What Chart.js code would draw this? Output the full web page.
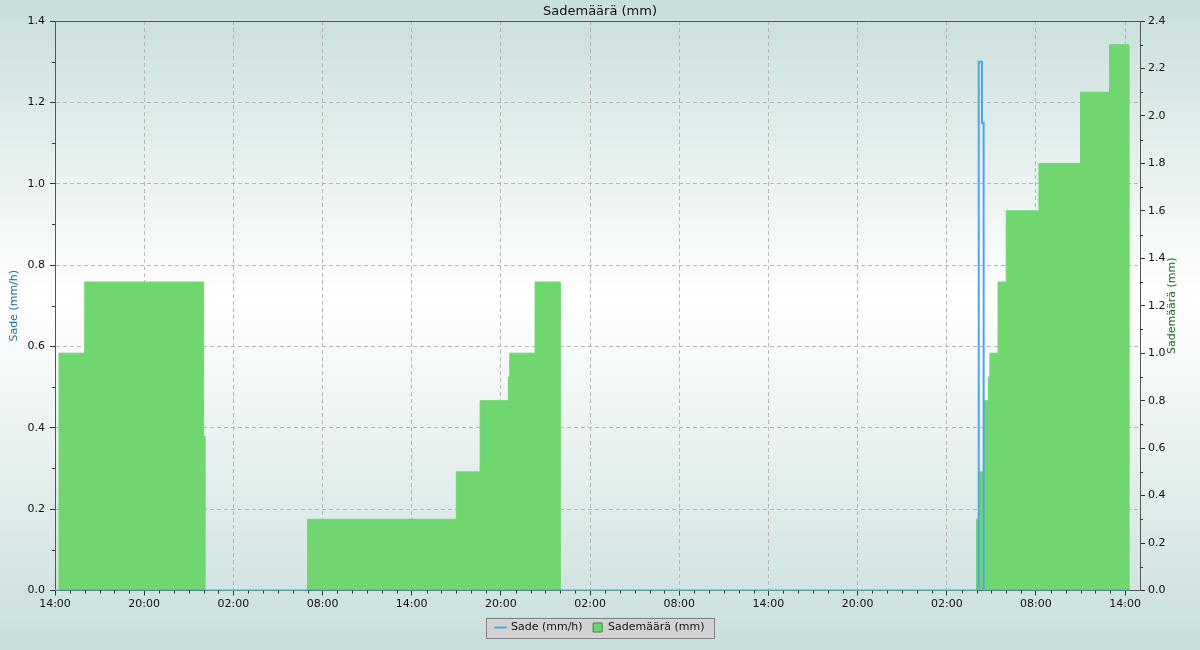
<!DOCTYPE html>
<html>
<head>
<meta charset="utf-8">
<script src="https://cdn.jsdelivr.net/npm/chart.js@4.4.1/dist/chart.umd.min.js"></script>
<style>
  html, body { margin: 0; padding: 0; }
  #wrap { width: 1200px; height: 650px; }
</style>
</head>
<body>
<div id="wrap"><canvas id="rainChart"></canvas></div>
<script>
// aika tunteina klo 14:00 alkaen
const rateTimes = [0, 62.15, 62.37, 62.48, 72.27]
const rateValues = [0, 1.3, 1.15, 0, 0]

const sumTimes = [0, 0.27, 2.0, 10.0, 10.1, 17.0, 27.0, 28.6, 30.5, 30.6, 32.3, 34.0,
  62.0, 62.2, 62.5, 62.8, 62.9, 63.45, 64.0, 66.2, 69.0, 70.95, 72.27]
const sumValues = [0, 1.0, 1.3, 0.65, 0, 0.3, 0.5, 0.8, 0.9, 1.0, 1.3, 0,
  0.3, 0.5, 0.8, 0.9, 1.0, 1.3, 1.6, 1.8, 2.1, 2.3, 0]

const xTickLabels = ['14:00', '20:00', '02:00', '08:00', '14:00', '20:00', '02:00',
  '08:00', '14:00', '20:00', '02:00', '08:00', '14:00']

const blue = 'rgb(78,168,222)'
const green = 'rgb(112,214,112)'

const toPoints = (xs, ys) => xs.map((x, i) => ({ x: x, y: ys[i] }))

const pageBg = {
  id: 'pageBg',
  beforeDraw(chart) {
    const { ctx, width, height } = chart
    const g = ctx.createLinearGradient(0, 0, 0, height)
    g.addColorStop(0, 'rgb(200,222,220)')
    g.addColorStop(0.46, 'rgb(255,255,255)')
    g.addColorStop(1, 'rgb(200,222,220)')
    ctx.save()
    ctx.fillStyle = g
    ctx.fillRect(0, 0, width, height)
    // legendin laatikko
    const boxes = chart.legend.legendHitBoxes
    if (boxes && boxes.length) {
      const first = boxes[0], last = boxes[boxes.length - 1]
      const l = first.left - 9, r = last.left + last.width + 10
      const cy = first.top + first.height / 2
      ctx.fillStyle = 'rgb(210,210,210)'
      ctx.fillRect(l, cy - 10, r - l, 20)
      ctx.strokeStyle = 'rgb(130,130,130)'
      ctx.lineWidth = 1
      ctx.strokeRect(Math.round(l) + 0.5, Math.round(cy - 10) + 0.5, Math.round(r - l), 20)
    }
    ctx.restore()
  }
}

const minorTicks = {
  id: 'minorTicks',
  afterDraw(chart) {
    const { ctx, chartArea } = chart
    const x = chart.scales.x, y = chart.scales.y, y1 = chart.scales.y1
    ctx.save()
    ctx.strokeStyle = '#333'
    ctx.lineWidth = 1
    ctx.beginPath()
    for (let h = 1; h < x.max; h++) {
      if (h % 6 === 0) continue
      const px = Math.round(x.getPixelForValue(h)) + 0.5
      ctx.moveTo(px, chartArea.bottom)
      ctx.lineTo(px, chartArea.bottom + 3)
    }
    for (let v = 0.1; v < 1.4; v += 0.2) {
      const py = Math.round(y.getPixelForValue(v)) + 0.5
      ctx.moveTo(chartArea.left - 3, py)
      ctx.lineTo(chartArea.left, py)
    }
    for (let v = 0.1; v < 2.4; v += 0.2) {
      const py = Math.round(y1.getPixelForValue(v)) + 0.5
      ctx.moveTo(chartArea.right, py)
      ctx.lineTo(chartArea.right + 3, py)
    }
    ctx.stroke()
    // yläreuna
    ctx.strokeStyle = '#555'
    ctx.beginPath()
    ctx.moveTo(chartArea.left, Math.floor(chartArea.top) + 0.5)
    ctx.lineTo(chartArea.right, Math.floor(chartArea.top) + 0.5)
    ctx.stroke()
    // oikean akselin otsikko, luetaan alhaalta ylös
    ctx.fillStyle = 'rgb(30,100,30)'
    ctx.font = "11px 'DejaVu Sans', sans-serif"
    ctx.textAlign = 'center'
    ctx.textBaseline = 'middle'
    ctx.translate(1172, (chartArea.top + chartArea.bottom) / 2)
    ctx.rotate(-Math.PI / 2)
    ctx.fillText('Sademäärä (mm)', 0, 0)
    ctx.restore()
  }
}

Chart.defaults.font.family = "'DejaVu Sans', sans-serif"
Chart.defaults.font.size = 11
Chart.defaults.color = '#111'

const ctx = document.getElementById('rainChart')
const rainChart = new Chart(ctx, {
  type: 'line',
  data: {
    datasets: [{
      label: 'Sade (mm/h)',
      data: toPoints(rateTimes, rateValues),
      borderColor: blue,
      backgroundColor: blue,
      borderWidth: 2,
      pointRadius: 0,
      stepped: true,
      fill: false,
      yAxisID: 'y'
    }, {
      label: 'Sademäärä (mm)',
      data: toPoints(sumTimes, sumValues),
      borderColor: green,
      backgroundColor: green,
      borderWidth: 1,
      pointRadius: 0,
      stepped: true,
      fill: 'origin',
      yAxisID: 'y1'
    }]
  },
  options: {
    responsive: true,
    maintainAspectRatio: false,
    animation: false,
    layout: { padding: { top: 0, bottom: 7, left: 0, right: 0 } },
    plugins: {
      title: {
        display: true,
        text: 'Sademäärä (mm)',
        color: '#111',
        font: { size: 13, weight: 'normal' },
        padding: { top: 3.5, bottom: 1.9 }
      },
      legend: {
        position: 'bottom',
        labels: {
          usePointStyle: true,
          boxWidth: 10,
          boxHeight: 9,
          padding: 10,
          generateLabels: () => [
            { text: 'Sade (mm/h)', pointStyle: 'line', strokeStyle: blue, fillStyle: blue,
              lineWidth: 2, hidden: false, datasetIndex: 0, fontColor: '#111' },
            { text: 'Sademäärä (mm)', pointStyle: 'rect', strokeStyle: 'rgb(60,130,60)', fillStyle: green,
              lineWidth: 1, hidden: false, datasetIndex: 1, fontColor: '#111' }
          ]
        }
      },
      tooltip: { enabled: false }
    },
    scales: {
      x: {
        type: 'linear',
        min: 0,
        max: 73,
        afterFit: (s) => { s.height = 21.5; s.paddingLeft = 0; s.paddingRight = 0 },
        ticks: {
          stepSize: 6,
          includeBounds: false,
          autoSkip: false,
          maxRotation: 0,
          padding: 2,
          callback: (v) => xTickLabels[Math.round(v / 6)]
        },
        grid: {
          color: 'rgba(175,175,175,0.9)',
          borderDash: [4, 3],
          tickColor: '#333',
          tickLength: 5
        },
        border: { color: '#555', dash: [4, 3] }
      },
      y: {
        position: 'left',
        min: 0,
        max: 1.4,
        afterFit: (s) => { s.width = 55; s.paddingTop = 0; s.paddingBottom = 0 },
        ticks: {
          stepSize: 0.2,
          padding: 5,
          callback: (v) => v.toFixed(1)
        },
        grid: {
          color: 'rgba(175,175,175,0.9)',
          tickColor: '#333',
          tickLength: 5
        },
        border: { color: '#555', dash: [4, 3] },
        title: {
          display: true,
          text: 'Sade (mm/h)',
          color: 'rgb(30,105,150)',
          font: { size: 11 },
          padding: { top: 8, bottom: 0 }
        }
      },
      y1: {
        position: 'right',
        min: 0,
        max: 2.4,
        afterFit: (s) => { s.width = 60; s.paddingTop = 0; s.paddingBottom = 0 },
        ticks: {
          stepSize: 0.2,
          padding: 3,
          callback: (v) => v.toFixed(1)
        },
        grid: {
          drawOnChartArea: false,
          tickColor: '#333',
          tickLength: 5
        },
        border: { color: '#555' }
      }
    }
  },
  plugins: [pageBg, minorTicks]
})
</script>
</body>
</html>
